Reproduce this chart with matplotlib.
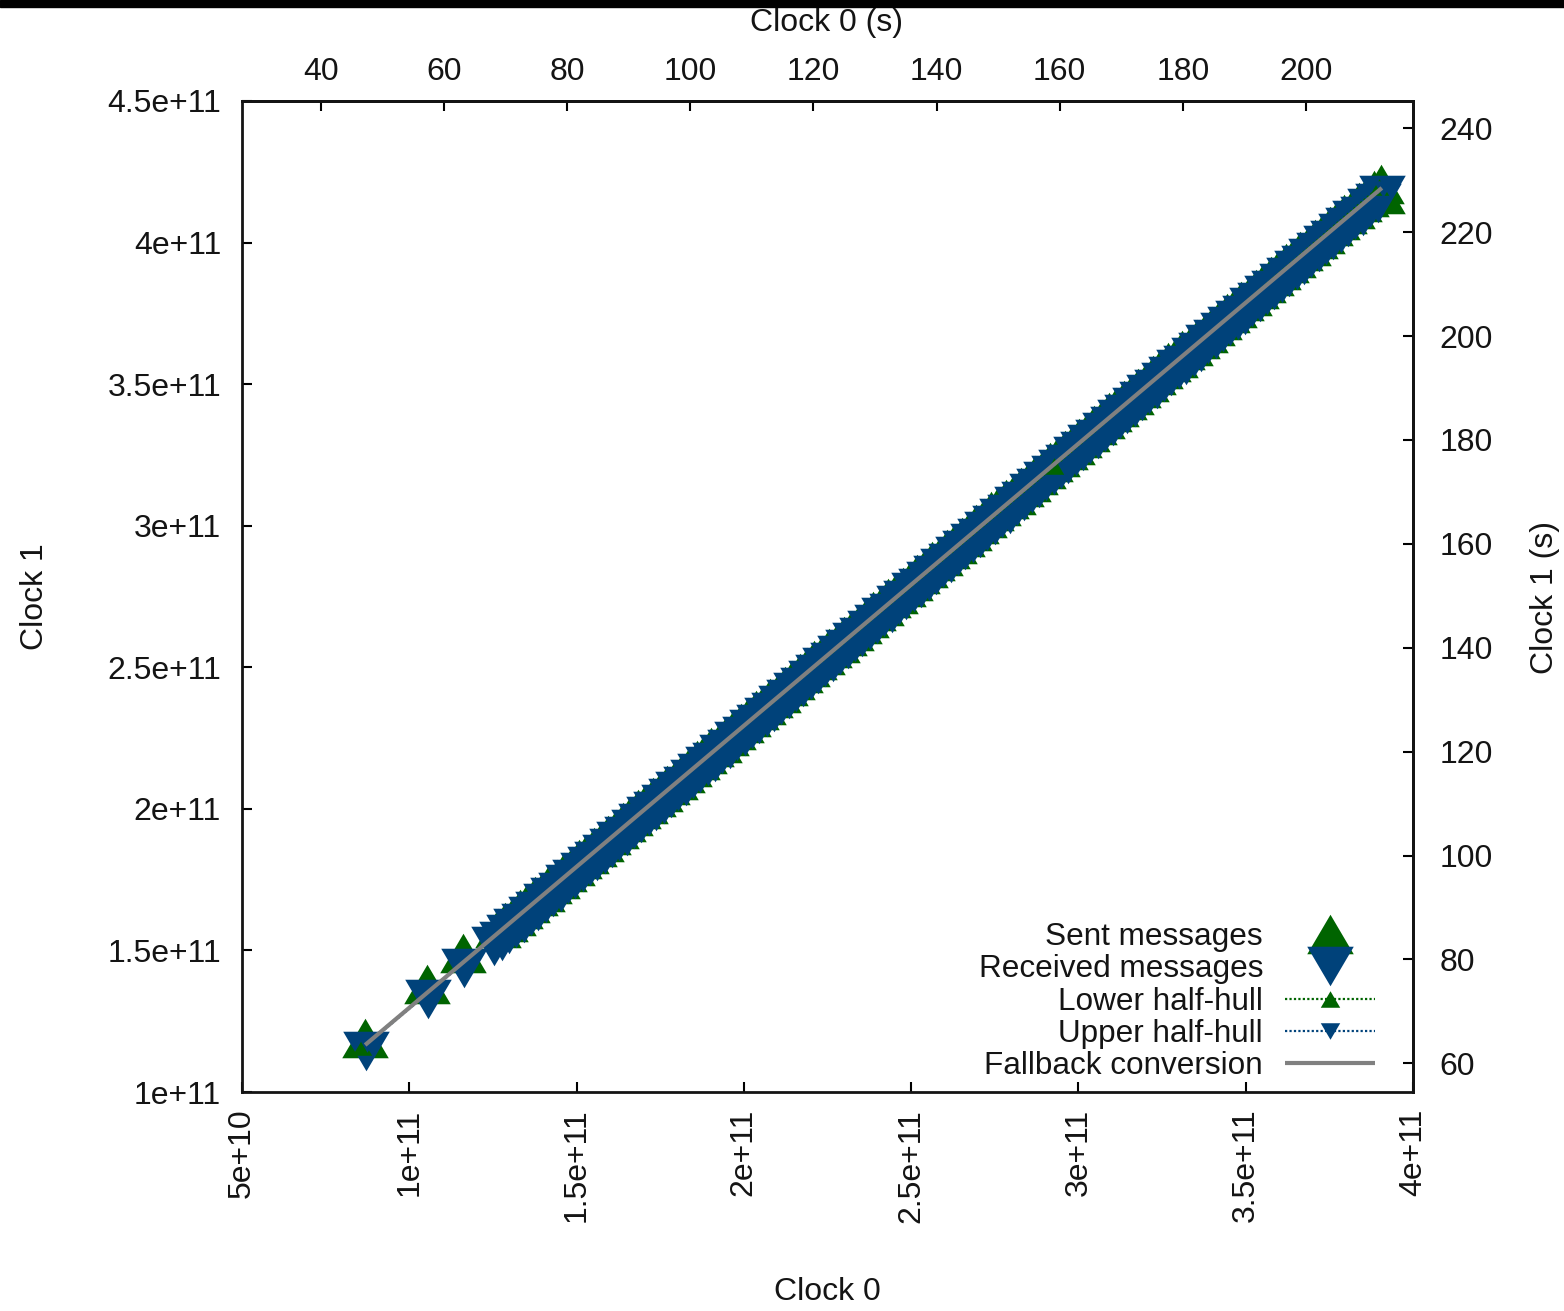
import matplotlib
matplotlib.use("Agg")
import matplotlib.pyplot as plt
from matplotlib.patches import Rectangle

plt.rcParams['font.family'] = ['Liberation Sans', 'DejaVu Sans']

# ---- data (values in units of 1e9 clock ticks) ----
recv_x = [87.0, 105.5, 116.5,
          125.4, 127.6, 129.8, 132.0, 134.2, 136.4, 138.6, 140.8, 143.0, 145.2, 147.4, 149.6,
          151.8, 154.0, 156.2, 158.4, 160.6, 162.8, 165.0, 167.2, 169.4, 171.6, 173.8, 176.0,
          178.2, 180.4, 182.6, 184.8, 187.0, 189.2, 191.4, 193.6, 195.8, 198.0, 200.2, 202.4,
          204.6, 206.8, 209.0, 211.2, 213.4, 215.6, 217.8, 220.0, 222.2, 224.4, 226.6, 228.8,
          231.0, 233.2, 235.4, 237.6, 239.8, 242.0, 244.2, 246.4, 248.6, 250.8, 253.0, 255.2,
          257.4, 259.6, 261.8, 264.0, 266.2, 268.4, 270.6, 272.8, 275.0, 277.2, 279.4, 281.6,
          283.8, 286.0, 288.2, 290.4, 292.6, 294.8, 297.0, 299.2, 301.4, 303.6, 305.8, 308.0,
          310.2, 312.4, 314.6, 316.8, 319.0, 321.2, 323.4, 325.6, 327.8, 330.0, 332.2, 334.4,
          336.6, 338.8, 341.0, 343.2, 345.4, 347.6, 349.8, 352.0, 354.2, 356.4, 358.6, 360.8,
          363.0, 365.2, 367.4, 369.6, 371.8, 374.0, 376.2, 378.4, 380.6, 382.8, 385.0, 387.2,
          389.4, 390.8]
recv_y = [114.4, 132.8, 143.8,
          151.5, 153.3, 155.9, 157.8, 159.8, 162.3, 164.1, 166.8, 168.9, 170.8, 173.5, 175.3,
          177.6, 179.9, 181.6, 184.2, 186.2, 188.8, 190.5, 193.0, 195.1, 197.5, 199.2, 201.8,
          203.7, 206.3, 208.0, 210.5, 212.6, 215.0, 216.7, 219.3, 221.3, 223.9, 225.6, 228.1,
          230.1, 232.5, 234.2, 236.8, 238.8, 241.4, 243.1, 245.6, 247.7, 250.1, 251.8, 254.3,
          256.3, 258.9, 260.6, 263.1, 265.2, 267.6, 269.3, 271.9, 273.9, 276.5, 278.1, 280.6,
          282.7, 285.1, 286.8, 289.4, 291.4, 294.0, 295.7, 298.2, 300.3, 302.7, 304.3, 306.9,
          308.9, 311.5, 313.2, 315.7, 317.8, 320.2, 321.9, 324.5, 326.5, 329.0, 330.7, 333.2,
          335.3, 337.7, 339.4, 342.0, 344.0, 346.6, 348.3, 350.8, 352.9, 355.2, 356.9, 359.5,
          361.5, 364.1, 365.8, 368.3, 370.4, 372.8, 374.5, 377.1, 379.0, 381.6, 383.3, 385.8,
          387.9, 390.3, 392.0, 394.6, 396.6, 399.2, 400.9, 403.4, 405.4, 407.8, 409.5, 412.1,
          414.1, 416.7]

sent_x = [86.8, 105.2, 116.2,
          126.5, 128.7, 130.9, 133.1, 135.3, 137.5, 139.7, 141.9, 144.1, 146.3, 148.5, 150.7,
          152.9, 155.1, 157.3, 159.5, 161.7, 163.9, 166.1, 168.3, 170.5, 172.7, 174.9, 177.1,
          179.3, 181.5, 183.7, 185.9, 188.1, 190.3, 192.5, 194.7, 196.9, 199.1, 201.3, 203.5,
          205.7, 207.9, 210.1, 212.3, 214.5, 216.7, 218.9, 221.1, 223.3, 225.5, 227.7, 229.9,
          232.1, 234.3, 236.5, 238.7, 240.9, 243.1, 245.3, 247.5, 249.7, 251.9, 254.1, 256.3,
          258.5, 260.7, 262.9, 265.1, 267.3, 269.5, 271.7, 273.9, 276.1, 278.3, 280.5, 282.7,
          284.9, 287.1, 289.3, 291.5, 293.7, 295.9, 298.1, 300.3, 302.5, 304.7, 306.9, 309.1,
          311.3, 313.5, 315.7, 317.9, 320.1, 322.3, 324.5, 326.7, 328.9, 331.1, 333.3, 335.5,
          337.7, 339.9, 342.1, 344.3, 346.5, 348.7, 350.9, 353.1, 355.3, 357.5, 359.7, 361.9,
          364.1, 366.3, 368.5, 370.7, 372.9, 375.1, 377.3, 379.5, 381.7, 383.9, 386.1, 388.3,
          390.5, 390.8]
sent_y = [119.0, 138.1, 149.1,
          157.8, 160.2, 162.3, 164.8, 166.6, 169.1, 170.8, 173.3, 175.3, 177.8, 179.9, 182.4,
          184.1, 186.6, 188.3, 190.8, 192.8, 195.3, 197.4, 199.9, 201.7, 204.2, 205.9, 208.4,
          210.3, 212.8, 214.9, 217.4, 219.2, 221.7, 223.4, 225.9, 227.9, 230.4, 232.5, 234.9,
          236.7, 239.2, 240.9, 243.4, 245.4, 247.9, 250.0, 252.5, 254.3, 256.8, 258.5, 260.9,
          262.9, 265.4, 267.5, 270.0, 271.8, 274.3, 276.0, 278.5, 280.5, 283.0, 285.0, 287.5,
          289.3, 291.8, 293.5, 296.0, 298.0, 300.5, 302.6, 305.1, 306.9, 309.4, 311.0, 313.5,
          315.5, 318.0, 320.1, 322.6, 324.4, 326.9, 328.6, 331.1, 333.1, 335.5, 337.6, 340.1,
          341.9, 344.4, 346.1, 348.6, 350.6, 353.1, 355.2, 357.7, 359.4, 361.9, 363.6, 366.1,
          368.1, 370.6, 372.7, 375.2, 377.0, 379.5, 381.2, 383.7, 385.6, 388.1, 390.2, 392.7,
          394.5, 397.0, 398.7, 401.2, 403.2, 405.7, 407.8, 410.2, 412.0, 414.5, 416.2, 418.7,
          420.7, 417.0]

lower_x = [86.0, 292.8, 389.8]
lower_y = [116.0, 321.0, 419.5]
upper_x = [87.5, 391.0]
upper_y = [117.0, 419.0]

fallback_x = [86.8, 390.7]
fallback_y = [116.6, 419.3]

SCALE = 1e9
x_ticks = [50, 100, 150, 200, 250, 300, 350, 400]
x_tick_labels = ['5e+10', '1e+11', '1.5e+11', '2e+11', '2.5e+11', '3e+11', '3.5e+11', '4e+11']
y_ticks = [100, 150, 200, 250, 300, 350, 400, 450]
y_tick_labels = ['1e+11', '1.5e+11', '2e+11', '2.5e+11', '3e+11', '3.5e+11', '4e+11', '4.5e+11']
top_ticks = [40, 60, 80, 100, 120, 140, 160, 180, 200]
right_ticks = [60, 80, 100, 120, 140, 160, 180, 200, 220, 240]
FREQ0 = 1.84e9
FREQ1 = 1.835e9

GREEN = '#006400'
BLUE = '#00427a'
GRAY = '#808080'
TXT = '#141414'
FS = 23

up_tri = [(0, 0.85), (-1, -0.85), (1, -0.85), (0, 0.85)]
down_tri = [(0, -0.85), (-1, 0.85), (1, 0.85), (0, -0.85)]

W, H = 1564, 1311
fig = plt.figure(figsize=(W/100, H/100), dpi=100)
ax = fig.add_axes([242/W, 1-1092/H, (1413-242)/W, (1092-101)/H])

sx = [v*SCALE for v in sent_x]; sy = [v*SCALE for v in sent_y]
rx = [v*SCALE for v in recv_x]; ry = [v*SCALE for v in recv_y]
ax.plot(sx, sy, linestyle='none', marker=up_tri, ms=33.5, color=GREEN, mew=0, label='Sent messages')
ax.plot(rx, ry, linestyle='none', marker=down_tri, ms=33.5, color=BLUE, mew=0, label='Received messages')
ax.plot([v*SCALE for v in lower_x], [v*SCALE for v in lower_y], linestyle=(0, (1, 1)), lw=1.6,
        marker=up_tri, ms=14, mew=0, color=GREEN, label='Lower half-hull')
ax.plot([v*SCALE for v in upper_x], [v*SCALE for v in upper_y], linestyle=(0, (1, 1)), lw=1.6,
        marker=down_tri, ms=14, mew=0, color=BLUE, label='Upper half-hull')
ax.plot([v*SCALE for v in fallback_x], [v*SCALE for v in fallback_y], color=GRAY, lw=3,
        solid_capstyle='butt', label='Fallback conversion')

ax.set_xlim(50*SCALE, 400*SCALE)
ax.set_ylim(100*SCALE, 450*SCALE)
ax.set_xticks([v*SCALE for v in x_ticks])
ax.set_xticklabels(x_tick_labels, rotation=90, fontsize=FS, color=TXT)
ax.set_yticks([v*SCALE for v in y_ticks])
ax.set_yticklabels(y_tick_labels, fontsize=FS, color=TXT)
ax.tick_params(axis='x', direction='in', length=7, width=1.5, pad=12, top=False)
ax.tick_params(axis='y', direction='in', length=7, width=1.5, pad=15, right=False)
for s in ax.spines.values():
    s.set_linewidth(2)
    s.set_color(TXT)

secx = ax.secondary_xaxis('top', functions=(lambda x: x/FREQ0, lambda s: s*FREQ0))
secx.set_xticks(top_ticks)
secx.tick_params(direction='in', length=7, width=1.5, pad=10, labelsize=FS, labelcolor=TXT)
secx.spines['top'].set_linewidth(2)

secy = ax.secondary_yaxis('right', functions=(lambda y: y/FREQ1, lambda s: s*FREQ1))
secy.set_yticks(right_ticks)
secy.tick_params(direction='in', length=7, width=1.5, pad=19, labelsize=FS, labelcolor=TXT)
secy.spines['right'].set_linewidth(2)

fig.text(827/W, 1-1292/H, 'Clock 0', fontsize=FS, color=TXT, ha='center', va='center')
fig.text(827/W, 1-23/H, 'Clock 0 (s)', fontsize=FS, color=TXT, ha='center', va='center')
fig.text(35/W, 1-597/H, 'Clock 1', fontsize=FS, color=TXT, ha='center', va='center', rotation=90)
fig.text(1545/W, 1-597/H, 'Clock 1 (s)', fontsize=FS, color=TXT, ha='center', va='center', rotation=90)

leg = ax.legend(loc='lower right', bbox_to_anchor=((1375-242)/1171, (1092-1081)/991),
                frameon=False, markerfirst=False, fontsize=22.7, handlelength=2.85,
                handletextpad=0.7, labelspacing=0.07, borderpad=0, borderaxespad=0,
                numpoints=1)
for t in leg.get_texts():
    t.set_color(TXT)

fig.patches.append(Rectangle((0, 1-7/H), 1, 7/H, transform=fig.transFigure,
                             color='black', zorder=10))

fig.savefig('out.png', dpi=100, facecolor='white')
